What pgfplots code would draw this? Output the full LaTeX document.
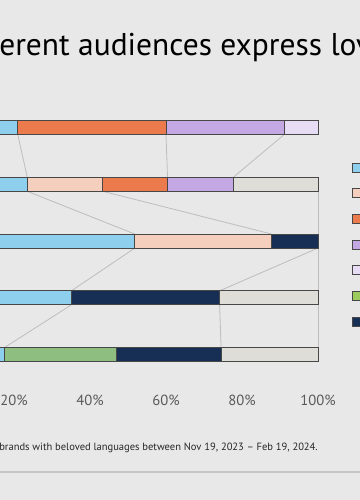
\documentclass[border=0pt]{standalone}
\usepackage{pgfplots}
\pgfplotsset{compat=1.18}
\usepackage{fontspec}
\setmainfont{PT Sans}
\definecolor{bg}{HTML}{E8E8E8}
\definecolor{cblue}{HTML}{8ECFEE}
\definecolor{cpeach}{HTML}{F5CFBD}
\definecolor{corange}{HTML}{EB7B4C}
\definecolor{cpurple}{HTML}{C4A8E3}
\definecolor{clav}{HTML}{E6DCF3}
\definecolor{cgreen}{HTML}{8FBF80}
\definecolor{cgreenl}{HTML}{9DCC5E}
\definecolor{cnavy}{HTML}{172F55}
\definecolor{cgrey}{HTML}{DEDDD8}
\definecolor{outl}{HTML}{474747}
\definecolor{conn}{HTML}{BDBDBD}
\definecolor{tickgray}{HTML}{5A5A5A}
\definecolor{rule}{HTML}{C4C4C4}
\begin{document}
\begin{tikzpicture}
\useasboundingbox (0pt,0pt) rectangle (270pt,375pt);
\clip (0pt,0pt) rectangle (270pt,375pt);
\fill[bg] (0pt,0pt) rectangle (270pt,375pt);
% title
\node[anchor=base west, inner sep=0, font=\fontsize{23.6}{28}\selectfont] at (-0.75pt,333pt) {erent audiences express love};
% connectors axis
\begin{axis}[
  at={(-46.5pt,87.8pt)}, anchor=south west,
  scale only axis, width=285pt, height=212.8pt,
  xmin=0, xmax=100, ymin=0.5, ymax=5.5,
  axis line style={draw=none}, ytick=\empty,
  xtick={0,20,40,60,80,100},
  xticklabels={0\%,20\%,40\%,60\%,80\%,100\%},
  major tick length=0pt,
  xticklabel style={font=\fontsize{11}{13}\selectfont, text=tickgray, anchor=center, yshift=-12.8pt},
  clip=false,
]
\addplot[conn, line width=0.6pt] coordinates {(21,4.8766) (23.5,4.1234)};
\addplot[conn, line width=0.6pt] coordinates {(60,4.8766) (60.4,4.1234)};
\addplot[conn, line width=0.6pt] coordinates {(91.1,4.8766) (77.7,4.1234)};
\addplot[conn, line width=0.6pt] coordinates {(23.5,3.8766) (51.8,3.1234)};
\addplot[conn, line width=0.6pt] coordinates {(43.4,3.8766) (87.8,3.1234)};
\addplot[conn, line width=0.6pt] coordinates {(100,3.8766) (100,3.1234)};
\addplot[conn, line width=0.6pt] coordinates {(51.8,2.8766) (35.1,2.1234)};
\addplot[conn, line width=0.6pt] coordinates {(100,2.8766) (74.1,2.1234)};
\addplot[conn, line width=0.6pt] coordinates {(100,2.8766) (100,2.1234)};
\addplot[conn, line width=0.6pt] coordinates {(35.1,1.8766) (17.5,1.1234)};
\addplot[conn, line width=0.6pt] coordinates {(74.1,1.8766) (74.5,1.1234)};
\addplot[conn, line width=0.6pt] coordinates {(100,1.8766) (100,1.1234)};
\end{axis}
% bars axis
\begin{axis}[
  at={(-46.5pt,87.8pt)}, anchor=south west,
  scale only axis, width=285pt, height=212.8pt,
  xmin=0, xmax=100, ymin=0.5, ymax=5.5,
  axis lines=none, ticks=none,
  xbar stacked, bar width=0.2467,
  clip=false,
]
\addplot[fill=cblue, draw=outl, line width=0.75pt] coordinates {(21,5) (23.5,4) (51.8,3) (35.1,2) (17.5,1)};
\addplot[fill=cpeach, draw=outl, line width=0.75pt] coordinates {(0,5) (19.9,4) (36,3) (0,2) (0,1)};
\addplot[fill=corange, draw=outl, line width=0.75pt] coordinates {(39,5) (17,4) (0,3) (0,2) (0,1)};
\addplot[fill=cpurple, draw=outl, line width=0.75pt] coordinates {(31.1,5) (17.3,4) (0,3) (0,2) (0,1)};
\addplot[fill=clav, draw=outl, line width=0.75pt] coordinates {(8.9,5) (0,4) (0,3) (0,2) (0,1)};
\addplot[fill=cgreen, draw=outl, line width=0.75pt] coordinates {(0,5) (0,4) (0,3) (0,2) (29.5,1)};
\addplot[fill=cnavy, draw=outl, line width=0.75pt] coordinates {(0,5) (0,4) (12.2,3) (39,2) (27.5,1)};
\addplot[fill=cgrey, draw=outl, line width=0.75pt] coordinates {(0,5) (22.3,4) (0,3) (25.9,2) (25.5,1)};
\end{axis}
% legend swatches
\foreach \c/\yy in {cblue/168,cpeach/193.5,corange/219,cpurple/245,clav/270.5,cgreenl/296,cnavy/322}{
  \draw[fill=\c, draw=outl, line width=0.75pt] (264.4pt,{(500-\yy-4.5)*0.75pt}) rectangle (271.5pt,{(500-\yy+4.5)*0.75pt});
}
% footnote
\node[anchor=base east, inner sep=0, font=\fontsize{7.9}{9.5}\selectfont, text=black!85] at (238.5pt,37pt) {and brands with beloved languages between Nov 19, 2023 – Feb 19, 2024.};
\draw[rule, line width=1.1pt] (0pt,21pt) -- (270pt,21pt);
\end{tikzpicture}
\end{document}
